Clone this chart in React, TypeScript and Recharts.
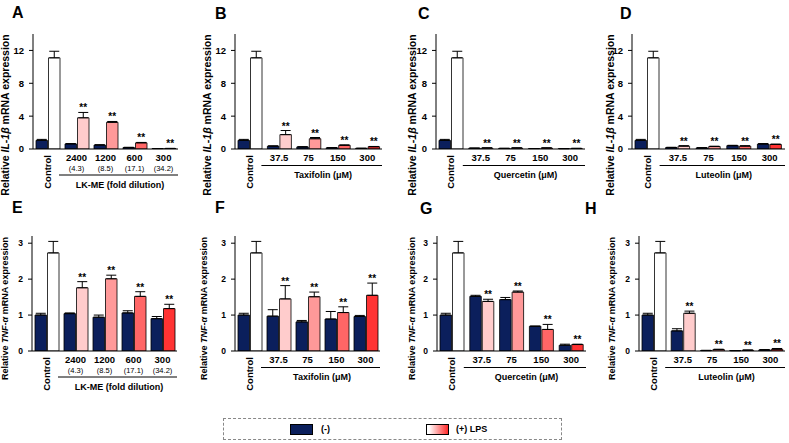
import { Bar, BarChart, Cell, ErrorBar, LabelList, XAxis, YAxis } from "recharts";

const FONT = 'Arial, "Liberation Sans", Helvetica, sans-serif';
const NAVY = '#0B1F5C';
const LPS_COLORS = ['#FFFFFF', '#FFCCCC', '#FF9999', '#FF6666', '#FF3333'];

// x categories
const lkDoses = ['Control', '2400', '1200', '600', '300'];
const lkFold = ['', '(4.3)', '(8.5)', '(17.1)', '(34.2)'];
const umDoses = ['Control', '37.5', '75', '150', '300'];
const significant = [false, true, true, true, true];

// IL-1β, panels A-D
const il1bNegA = [1.05, 0.62, 0.48, 0.18, 0.05];
const il1bNegErrA = [0.12, 0.04, 0.04, 0.03, 0.01];
const il1bLpsA = [11.1, 3.8, 3.25, 0.75, 0.06];
const il1bLpsErrA = [0.8, 0.65, 0.1, 0.05, 0.02];

const il1bNegB = [1.05, 0.35, 0.25, 0.15, 0.08];
const il1bNegErrB = [0.12, 0.03, 0.03, 0.02, 0.01];
const il1bLpsB = [11.1, 1.75, 1.25, 0.45, 0.28];
const il1bLpsErrB = [0.8, 0.5, 0.15, 0.05, 0.03];

const il1bNegC = [1.05, 0.1, 0.07, 0.05, 0.04];
const il1bNegErrC = [0.12, 0.01, 0.02, 0.01, 0.01];
const il1bLpsC = [11.1, 0.12, 0.12, 0.12, 0.07];
const il1bLpsErrC = [0.8, 0.02, 0.02, 0.02, 0.01];

const il1bNegD = [1.05, 0.18, 0.14, 0.4, 0.6];
const il1bNegErrD = [0.12, 0.03, 0.02, 0.05, 0.06];
const il1bLpsD = [11.1, 0.35, 0.3, 0.35, 0.55];
const il1bLpsErrD = [0.8, 0.05, 0.04, 0.05, 0.05];

// TNF-α, panels E-H
const tnfNegE = [1.0, 1.04, 0.94, 1.06, 0.9];
const tnfNegErrE = [0.05, 0.02, 0.06, 0.06, 0.06];
const tnfLpsE = [2.73, 1.76, 2.01, 1.52, 1.18];
const tnfLpsErrE = [0.32, 0.17, 0.1, 0.13, 0.12];

const tnfNegF = [1.0, 0.97, 0.81, 0.89, 0.96];
const tnfNegErrF = [0.05, 0.18, 0.04, 0.21, 0.03];
const tnfLpsF = [2.73, 1.45, 1.51, 1.07, 1.55];
const tnfLpsErrF = [0.32, 0.37, 0.13, 0.16, 0.34];

const tnfNegG = [1.0, 1.52, 1.43, 0.69, 0.16];
const tnfNegErrG = [0.05, 0.03, 0.06, 0, 0.03];
const tnfLpsG = [2.73, 1.38, 1.64, 0.6, 0.18];
const tnfLpsErrG = [0.32, 0.06, 0.03, 0.14, 0.01];

const tnfNegH = [1.0, 0.56, 0.01, 0.01, 0.03];
const tnfNegErrH = [0.05, 0.06, 0.01, 0, 0.01];
const tnfLpsH = [2.73, 1.05, 0.04, 0.02, 0.05];
const tnfLpsErrH = [0.32, 0.06, 0.01, 0.01, 0.02];

const makeRows = (labels: string[], neg: number[], negErr: number[], lps: number[], lpsErr: number[]) =>
  labels.map((cat, i) => ({
    cat,
    neg: neg[i],
    negErr: [0, negErr[i]],
    lps: lps[i],
    lpsErr: [0, lpsErr[i]],
  }));

const ROWS = {
  top: { chartTop: 30, domain: [0, 14], ticks: [0, 4, 8, 12], tickFs: 9.5, titleFs: 10.5, titleDy: 23.5, gene: 'IL-1β' },
  bottom: { chartTop: 232, domain: [0, 3.2], ticks: [0, 1, 2, 3], tickFs: 8.5, titleFs: 9, titleDy: 15, gene: 'TNF-α' },
};

const MARGIN_TOP = 4;
const PLOT_H = 115;
const XAXIS_H = 52;

type Panel = {
  letter: string; lx: number; ly: number;
  axisX: number; axisEnd: number; gap: number;
  row: 'top' | 'bottom';
  labels: string[]; sub: string[] | null; group: string;
  neg: number[]; negErr: number[]; lps: number[]; lpsErr: number[];
};

const panels: Panel[] = [
  { letter: 'A', lx: 12, ly: 18, axisX: 33, axisEnd: 178, gap: 28, row: 'top', labels: lkDoses, sub: lkFold, group: 'LK-ME (fold dilution)', neg: il1bNegA, negErr: il1bNegErrA, lps: il1bLpsA, lpsErr: il1bLpsErrA },
  { letter: 'B', lx: 215, ly: 19, axisX: 235, axisEnd: 382, gap: 28, row: 'top', labels: umDoses, sub: null, group: 'Taxifolin (μM)', neg: il1bNegB, negErr: il1bNegErrB, lps: il1bLpsB, lpsErr: il1bLpsErrB },
  { letter: 'C', lx: 418, ly: 19, axisX: 436, axisEnd: 585, gap: 24, row: 'top', labels: umDoses, sub: null, group: 'Quercetin (μM)', neg: il1bNegC, negErr: il1bNegErrC, lps: il1bLpsC, lpsErr: il1bLpsErrC },
  { letter: 'D', lx: 620, ly: 19, axisX: 632, axisEnd: 785, gap: 22, row: 'top', labels: umDoses, sub: null, group: 'Luteolin (μM)', neg: il1bNegD, negErr: il1bNegErrD, lps: il1bLpsD, lpsErr: il1bLpsErrD },
  { letter: 'E', lx: 12, ly: 213, axisX: 32, axisEnd: 177, gap: 27, row: 'bottom', labels: lkDoses, sub: lkFold, group: 'LK-ME (fold dilution)', neg: tnfNegE, negErr: tnfNegErrE, lps: tnfLpsE, lpsErr: tnfLpsErrE },
  { letter: 'F', lx: 215, ly: 213, axisX: 235, axisEnd: 380, gap: 31, row: 'bottom', labels: umDoses, sub: null, group: 'Taxifolin (μM)', neg: tnfNegF, negErr: tnfNegErrF, lps: tnfLpsF, lpsErr: tnfLpsErrF },
  { letter: 'G', lx: 420, ly: 214, axisX: 437, axisEnd: 586, gap: 25, row: 'bottom', labels: umDoses, sub: null, group: 'Quercetin (μM)', neg: tnfNegG, negErr: tnfNegErrG, lps: tnfLpsG, lpsErr: tnfLpsErrG },
  { letter: 'H', lx: 585, ly: 214, axisX: 639, axisEnd: 785, gap: 27, row: 'bottom', labels: umDoses, sub: null, group: 'Luteolin (μM)', neg: tnfNegH, negErr: tnfNegErrH, lps: tnfLpsH, lpsErr: tnfLpsErrH },
];

const PanelChart = ({ p }: { p: Panel }) => {
  const row = ROWS[p.row];
  const yw = p.gap + 8;
  const data = makeRows(p.labels, p.neg, p.negErr, p.lps, p.lpsErr);
  const hasSub = !!p.sub;

  const renderTick = (props: any) => {
    const { x, y, payload, index } = props;
    if (index === 0) {
      return (
        <text transform={`translate(${x + 3.5},${y + 6}) rotate(-90)`} textAnchor="end"
          fontSize={9.5} fontWeight="bold" fontFamily={FONT} fill="#000">{payload.value}</text>
      );
    }
    return (
      <g>
        <text x={x} y={y + 12} textAnchor="middle" fontSize={9.5} fontWeight="bold" fontFamily={FONT} fill="#000">{payload.value}</text>
        {hasSub && (
          <text x={x} y={y + 22} textAnchor="middle" fontSize={7.5} fontFamily={FONT} fill="#000">{p.sub![index]}</text>
        )}
      </g>
    );
  };

  const renderGroup = (props: any) => {
    const vb = props.viewBox || props;
    const { x, y, width } = vb;
    if (x == null) return null;
    const lineY = y + (hasSub ? 26 : 16.5);
    return (
      <g>
        <line x1={x + width / 5 - 3} x2={x + width} y1={lineY} y2={lineY} stroke="#000" strokeWidth={1} />
        <text x={x + width * 0.6} y={lineY + 12.5} textAnchor="middle" fontSize={9} fontWeight="bold" fontFamily={FONT} fill="#000">{p.group}</text>
      </g>
    );
  };

  const renderTitle = (props: any) => {
    const vb = props.viewBox || props;
    const { x, y, width, height } = vb;
    if (x == null) return null;
    const tx = x + width - p.gap;
    const ty = y + height / 2 + row.titleDy;
    return (
      <text transform={`translate(${tx},${ty}) rotate(-90)`} textAnchor="middle" dominantBaseline="central"
        fontSize={row.titleFs} fontWeight="bold" fontFamily={FONT} fill="#000">
        <tspan>Relative </tspan>
        <tspan fontStyle="italic">{row.gene}</tspan>
        <tspan> mRNA expression</tspan>
      </text>
    );
  };

  const renderStars = (props: any) => {
    const vb = props.viewBox || props;
    const i = props.index;
    const { x, y, width, height } = vb;
    if (x == null || i == null || !significant[i]) return null;
    const v = Number(props.value);
    const ppu = v > 0 ? height / v : 0;
    const top = y - p.lpsErr[i] * ppu;
    return (
      <text x={x + width / 2} y={top - 1} textAnchor="middle" fontSize={10} fontWeight="bold" fontFamily={FONT} fill="#000">**</text>
    );
  };

  return (
    <div style={{ position: 'absolute', left: p.axisX - yw, top: row.chartTop }}>
      <BarChart
        width={yw + (p.axisEnd - p.axisX) + 4}
        height={MARGIN_TOP + PLOT_H + XAXIS_H}
        data={data}
        margin={{ top: MARGIN_TOP, right: 4, left: 0, bottom: 0 }}
        barSize={11.5}
        barGap={1}
      >
        <XAxis dataKey="cat" interval={0} tickLine={false} tickSize={0} tickMargin={0}
          axisLine={{ stroke: '#000', strokeWidth: 1 }} height={XAXIS_H}
          tick={renderTick} label={renderGroup} />
        <YAxis width={yw} domain={row.domain} ticks={row.ticks} allowDataOverflow
          tickSize={4} tickMargin={5} tickLine={{ stroke: '#000' }}
          axisLine={{ stroke: '#000', strokeWidth: 1 }}
          tick={{ fontSize: row.tickFs, fontWeight: 'bold', fill: '#000', fontFamily: FONT }}
          label={renderTitle} />
        <Bar dataKey="neg" fill={NAVY} stroke="#000" strokeWidth={0.8} isAnimationActive={false}>
          <ErrorBar dataKey="negErr" direction="y" width={5} stroke="#000" strokeWidth={1} />
        </Bar>
        <Bar dataKey="lps" stroke="#000" strokeWidth={0.8} isAnimationActive={false}>
          {data.map((entry, index) => (
            <Cell key={`cell-${index}`} fill={LPS_COLORS[index % LPS_COLORS.length]} />
          ))}
          <ErrorBar dataKey="lpsErr" direction="y" width={5} stroke="#000" strokeWidth={1} />
          <LabelList dataKey="lps" content={renderStars} />
        </Bar>
      </BarChart>
    </div>
  );
};

const Legend = () => (
  <div style={{ position: 'absolute', left: 223, top: 418, width: 339, height: 22, border: '1px dashed #888', boxSizing: 'border-box', fontFamily: FONT, fontSize: 9, fontWeight: 'bold' }}>
    <div style={{ position: 'absolute', left: 66, top: 5, width: 23, height: 11, background: NAVY, border: '1px solid #000', boxSizing: 'border-box' }} />
    <div style={{ position: 'absolute', left: 97, top: 4, lineHeight: '13px' }}>(-)</div>
    <div style={{ position: 'absolute', left: 202, top: 5, width: 23, height: 11, background: 'linear-gradient(90deg, #ffffff 10%, #ff2a2a 100%)', border: '1px solid #000', boxSizing: 'border-box' }} />
    <div style={{ position: 'absolute', left: 232, top: 4, lineHeight: '13px' }}>(+) LPS</div>
  </div>
);

const App = () => {
  return (
    <div style={{ position: 'absolute', left: 0, top: 0, width: 789, height: 443, background: '#fff', overflow: 'hidden' }}>
      <svg width={789} height={443} style={{ position: 'absolute', left: 0, top: 0 }}>
        {panels.map((p) => (
          <text key={p.letter} x={p.lx} y={p.ly} fontSize={16} fontWeight="bold" fontFamily={FONT} fill="#000">{p.letter}</text>
        ))}
      </svg>
      {panels.map((p) => (
        <PanelChart key={p.letter} p={p} />
      ))}
      <Legend />
    </div>
  );
};

export default App;
